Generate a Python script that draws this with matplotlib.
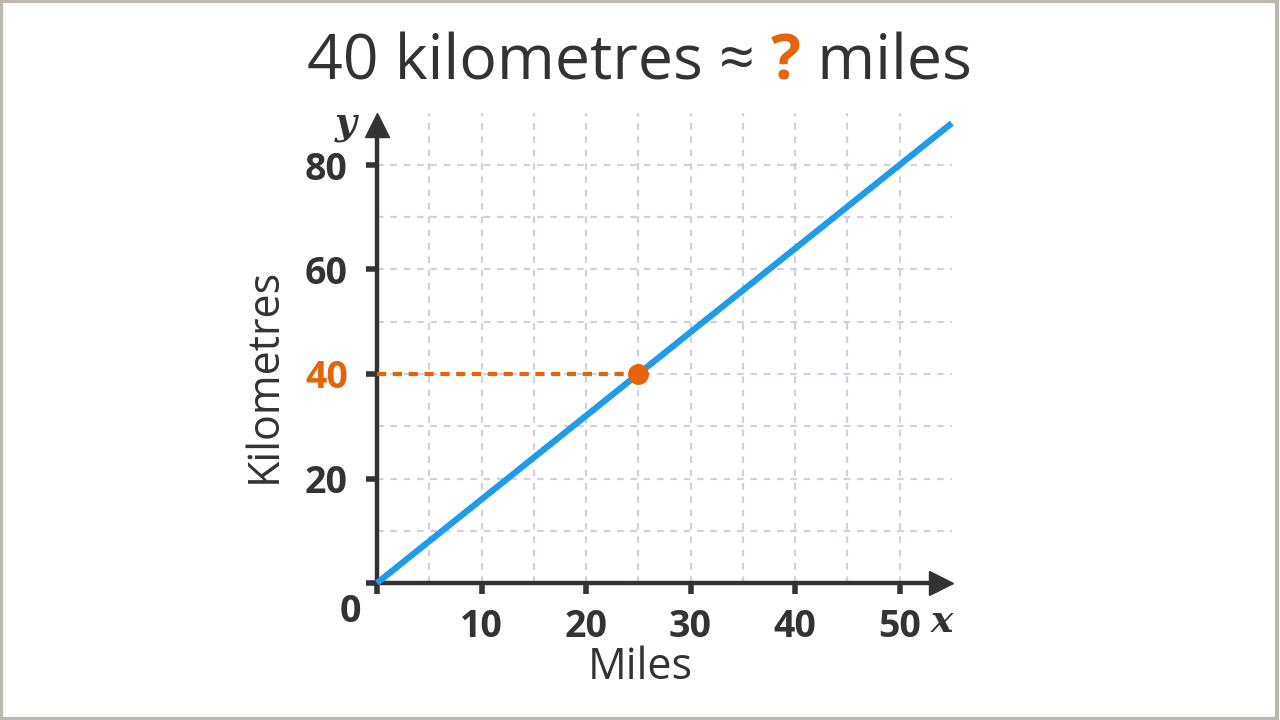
import matplotlib
matplotlib.use("Agg")
import matplotlib.pyplot as plt
from matplotlib.patches import Rectangle

# data
miles = [0, 55]
kilometres = [0, 88]
point_miles = 25
point_km = 40
x_ticks = [10, 20, 30, 40, 50]
y_ticks = [20, 40, 60, 80]
x_grid = [5, 10, 15, 20, 25, 30, 35, 40, 45, 50]
y_grid = [10, 20, 30, 40, 50, 60, 70, 80]

DARK = "#333333"
BLUE = "#1e9bea"
ORANGE = "#e5640a"
GRID = "#d2d0e6"

plt.rcParams["font.family"] = ["Open Sans", "DejaVu Sans"]

fig = plt.figure(figsize=(12.8, 7.2), dpi=100)
ax = fig.add_axes([377 / 1280, 137 / 720, 56 * 10.45 / 1280, 91 * 5.225 / 720])
ax.set_xlim(0, 56)
ax.set_ylim(0, 91)

# grid drawn by hand so it stops short of the arrows
ax.vlines(x_grid, 0, 90, colors=GRID, linestyles=(0, (3, 3)), linewidth=1.6, zorder=1)
ax.hlines(y_grid, 0, 55, colors=GRID, linestyles=(0, (3, 3)), linewidth=1.6, zorder=1)

# axes with arrows
for s in ["top", "right"]:
    ax.spines[s].set_visible(False)
ax.spines["left"].set_bounds(0, 87.5)
ax.spines["bottom"].set_bounds(0, 53.8)
for s in ["left", "bottom"]:
    ax.spines[s].set_linewidth(3.2)
    ax.spines[s].set_color(DARK)
ax.plot([53.95], [0], marker=">", markersize=17, color=DARK, clip_on=False, zorder=5)
ax.plot([0], [87.7], marker="^", markersize=17, color=DARK, clip_on=False, zorder=5)

ax.set_xticks([0] + x_ticks)
ax.set_xticklabels([""] + [str(v) for v in x_ticks])
ax.set_yticks([0] + y_ticks)
ax.set_yticklabels([""] + [str(v) for v in y_ticks])
ax.tick_params(axis="both", direction="out", length=8, width=4, color=DARK,
               labelsize=27, labelcolor=DARK)
ax.tick_params(axis="x", pad=10)
ax.tick_params(axis="y", pad=13)
for lab in ax.get_xticklabels() + ax.get_yticklabels():
    lab.set_fontweight("bold")
ax.get_yticklabels()[2].set_color(ORANGE)

# origin label and axis letters
fig.text(350 / 1280, 1 - 612 / 720, "0", fontsize=27, fontweight="bold",
         color=DARK, ha="center", va="center")
fig.text(942 / 1280, 1 - 622 / 720, "x", fontsize=27, fontweight="bold",
         style="italic", family="DejaVu Serif", color=DARK, ha="center", va="center")
fig.text(346 / 1280, 1 - 124 / 720, "y", fontsize=27, fontweight="bold",
         style="italic", family="DejaVu Serif", color=DARK, ha="center", va="center")

# conversion line and reading
ax.plot(miles, kilometres, color=BLUE, linewidth=4.5, solid_capstyle="butt",
        clip_on=False, zorder=3)
ax.plot([0, point_miles], [point_km, point_km], color=ORANGE, linewidth=3,
        linestyle=(0, (2.2, 1.6)), zorder=4)
ax.plot([point_miles], [point_km], marker="o", markersize=14, color=ORANGE, zorder=6)

# axis titles
fig.text(640 / 1280, 1 - 668 / 720, "Miles", fontsize=31, color=DARK,
         ha="center", va="center")
fig.text(265 / 1280, 1 - 375 / 720, "Kilometres", fontsize=31, color=DARK,
         ha="center", va="center", rotation=90)

# title in three pieces, centred together
parts = [("40 kilometres ≈ ", DARK, "normal"), ("?", ORANGE, "bold"), (" miles", DARK, "normal")]
texts = [fig.text(0, 1 - 80 / 720, s, fontsize=45, color=c, fontweight=w, va="baseline")
         for s, c, w in parts]
fig.canvas.draw()
r = fig.canvas.get_renderer()
widths = [t.get_window_extent(r).width for t in texts]
x = 639 - sum(widths) / 2
for t, w in zip(texts, widths):
    t.set_x(x / 1280)
    x += w

# thin frame around the picture
fig.patches.append(Rectangle((0.001, 0.002), 0.997, 0.996, transform=fig.transFigure,
                             fill=False, edgecolor="#bdb8ae", linewidth=3))

fig.savefig("out.png", dpi=100)
